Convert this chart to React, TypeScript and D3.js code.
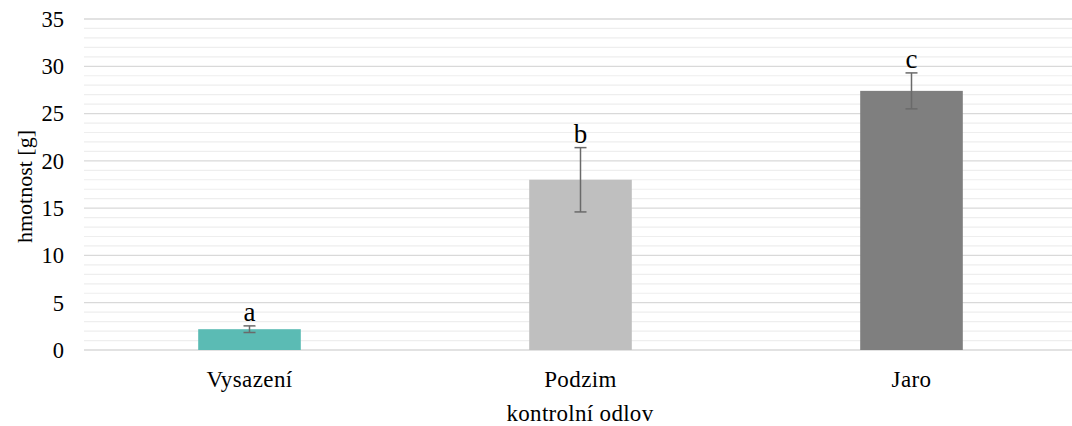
import React from "react";
import * as d3 from "d3";

const categories = ["Vysazení", "Podzim", "Jaro"];
const means = [2.2, 18.0, 27.4];
const errors = [0.35, 3.4, 1.9];
const letters = ["a", "b", "c"];
const colors = ["#5BBBB4", "#BFBFBF", "#7F7F7F"];
const yTicks = [0, 5, 10, 15, 20, 25, 30, 35];
const minorTicks = d3.range(0, 36, 1);

const W = 1072;
const H = 426;
const left = 84;
const right = 1077;
const top = 19;
const bottom = 350;

export default function App() {
  const x = d3.scaleBand<string>().domain(categories).range([left, right]).paddingInner(0.69).paddingOuter(0.345);
  const y = d3.scaleLinear().domain([0, 35]).range([bottom, top]);
  const font = "'Liberation Serif', 'Times New Roman', serif";
  return (
    <svg width={W} height={H} style={{ position: "absolute", left: 0, top: 0, background: "#fff" }}>
      {minorTicks.filter((t) => t % 5 !== 0).map((t) => (
        <line key={"m" + t} x1={left} x2={W} y1={y(t)} y2={y(t)} stroke="#EEEEEE" strokeWidth={1.2} />
      ))}
      {yTicks.map((t) => (
        <line key={"g" + t} x1={left} x2={W} y1={y(t)} y2={y(t)} stroke="#D9D9D9" strokeWidth={1.3} />
      ))}
      {yTicks.map((t) => (
        <text key={"t" + t} x={64} y={y(t)} dy="0.35em" textAnchor="end" fontFamily={font} fontSize={22.5} fill="#000">
          {t}
        </text>
      ))}
      {categories.map((c, i) => {
        const bx = x(c)!;
        const bw = x.bandwidth();
        const cx = bx + bw / 2;
        const hi = y(means[i] + errors[i]);
        const lo = y(means[i] - errors[i]);
        return (
          <g key={c}>
            <rect x={bx} y={y(means[i])} width={bw} height={y(0) - y(means[i])} fill={colors[i]} />
            <line x1={cx} x2={cx} y1={hi} y2={lo} stroke="#6A6A6A" strokeWidth={1.5} />
            <line x1={cx - 6} x2={cx + 6} y1={hi} y2={hi} stroke="#6A6A6A" strokeWidth={1.5} />
            <line x1={cx - 6} x2={cx + 6} y1={lo} y2={lo} stroke="#6A6A6A" strokeWidth={1.5} />
            <text x={cx} y={hi - 5} textAnchor="middle" fontFamily={font} fontSize={27} fill="#000">
              {letters[i]}
            </text>
            <text x={cx} y={387} textAnchor="middle" fontFamily={font} fontSize={23} fill="#000" letterSpacing={0.4}>
              {c}
            </text>
          </g>
        );
      })}
      <text x={580} y={421} textAnchor="middle" fontFamily={font} fontSize={23} fill="#000" letterSpacing={0.3}>
        kontrolní odlov
      </text>
      <text transform={`translate(32, ${(top + bottom) / 2 + 2}) rotate(-90)`} textAnchor="middle" fontFamily={font} fontSize={22} fill="#000">
        hmotnost [g]
      </text>
    </svg>
  );
}
